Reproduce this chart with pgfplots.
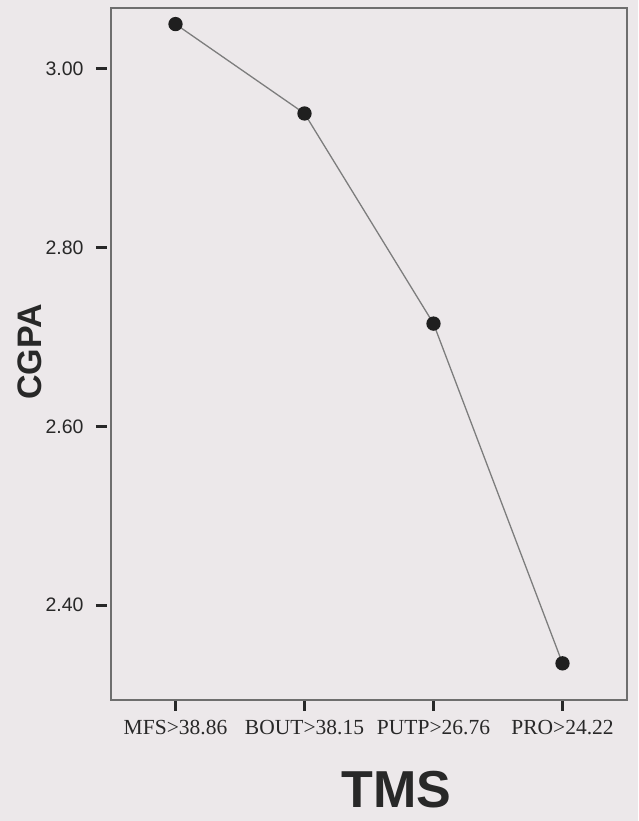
\documentclass[border=0pt]{standalone}
\usepackage{pgfplots}
\pgfplotsset{compat=1.18}
\usepackage{fontspec}
\setmainfont{Liberation Serif}
\newfontfamily\arial{Liberation Sans}
\definecolor{bgc}{RGB}{236,232,234}
\definecolor{axc}{RGB}{110,110,110}
\definecolor{linec}{RGB}{125,125,125}
\definecolor{txt}{RGB}{40,40,40}
\begin{document}
\begin{tikzpicture}[x=1pt,y=1pt]
\fill[bgc] (0,0) rectangle (638,821);
\path[use as bounding box] (0,0) rectangle (638,821);
\begin{axis}[
  at={(111pt,121pt)}, anchor=south west,
  scale only axis, width=516pt, height=692pt,
  xmin=-0.5, xmax=3.5, ymin=2.294, ymax=3.068,
  axis line style={axc, line width=1.2pt},
  tick pos=left,
  xtick={0,1,2,3},
  xticklabels={MFS>38.86, BOUT>38.15, PUTP>26.76, PRO>24.22},
  ytick={2.4,2.6,2.8,3.0},
  yticklabels={2.40,2.60,2.80,3.00},
  tick align=outside,
  major tick length=11pt,
  x tick style={line width=2.4pt, color=txt},
  y tick style={line width=3.2pt, color=txt, xshift=-4pt},
  x tick label style={font=\fontsize{21.5}{24}\selectfont, text=txt, yshift=-6pt},
  y tick label style={font=\arial\fontsize{19.5}{22}\selectfont, text=txt, xshift=-13pt},
  xlabel={TMS},
  xlabel style={font=\arial\bfseries\fontsize{52}{56}\selectfont, text=txt, at={(axis description cs:0.553,-0.129)}, anchor=center},
  ylabel={CGPA},
  ylabel style={font=\arial\bfseries\fontsize{34}{38}\selectfont, text=txt, at={(axis description cs:-0.157,0.503)}, anchor=center, rotate=0},
]
\addplot[color=linec, line width=1.3pt, mark=*, mark size=6.5pt, mark options={fill=black!88, draw=black!88}]
  coordinates {(0,3.05) (1,2.95) (2,2.715) (3,2.335)};
\end{axis}
\end{tikzpicture}
\end{document}
